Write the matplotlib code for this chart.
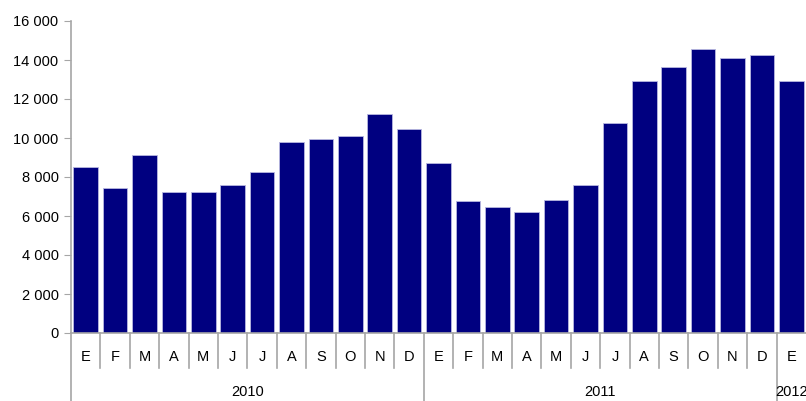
import matplotlib.pyplot as plt
import matplotlib.transforms as mtransforms
from matplotlib.ticker import FuncFormatter

plt.rcParams['font.family'] = ['Liberation Sans', 'DejaVu Sans']

# monthly values, Jan 2010 .. Jan 2012
months = ["E", "F", "M", "A", "M", "J", "J", "A", "S", "O", "N", "D",
          "E", "F", "M", "A", "M", "J", "J", "A", "S", "O", "N", "D",
          "E"]
values = [8500, 7440, 9110, 7210, 7210, 7590, 8270, 9780, 9930, 10090, 11230, 10480,
          8730, 6750, 6460, 6220, 6840, 7590, 10780, 12900, 13660, 14580, 14120, 14270,
          12900]
years = ["2010", "2011", "2012"]
year_start = [0, 12, 24]
year_len = [12, 12, 1]

grey = "#a6a6a6"
navy = "#000080"

fig = plt.figure(figsize=(8.06, 4.01), dpi=100)
ax = fig.add_axes([71 / 806, 68 / 401, 735 / 806, 312 / 401])

x = list(range(len(values)))
ax.bar(x, values, width=0.84, color=navy, edgecolor="#b8b8e0", linewidth=0.6)

ax.set_xlim(-0.5, len(values) - 0.5)
ax.set_ylim(0, 16000)
ax.set_yticks(range(0, 16001, 2000))
ax.yaxis.set_major_formatter(FuncFormatter(lambda v, p: f"{int(v):,}".replace(",", " ")))
ax.tick_params(axis="y", direction="out", length=5, color=grey, labelsize=10.5, pad=4)
ax.set_xticks([])

for s in ["top", "right"]:
    ax.spines[s].set_visible(False)
for s in ["left", "bottom"]:
    ax.spines[s].set_color(grey)
    ax.spines[s].set_linewidth(1.2)

trans = mtransforms.blended_transform_factory(ax.transData, ax.transAxes)
px = 1 / 312  # one pixel in axes units (vertical)

# month separators and labels
for i in range(1, len(values)):
    if i in year_start:
        continue
    ax.plot([i - 0.5, i - 0.5], [0, -35 * px], transform=trans, color=grey, lw=1.2, clip_on=False)
for i, m in enumerate(months):
    ax.text(i, -24 * px, m, transform=trans, ha="center", va="center", fontsize=10.5)

# year separators and labels
for s, n, y in zip(year_start, year_len, years):
    ax.plot([s - 0.5, s - 0.5], [0, -70 * px], transform=trans, color=grey, lw=1.2, clip_on=False)
    ax.text(s + (n - 1) / 2, -59 * px, y, transform=trans, ha="center", va="center", fontsize=10.5)

fig.savefig("out.png", dpi=100)
